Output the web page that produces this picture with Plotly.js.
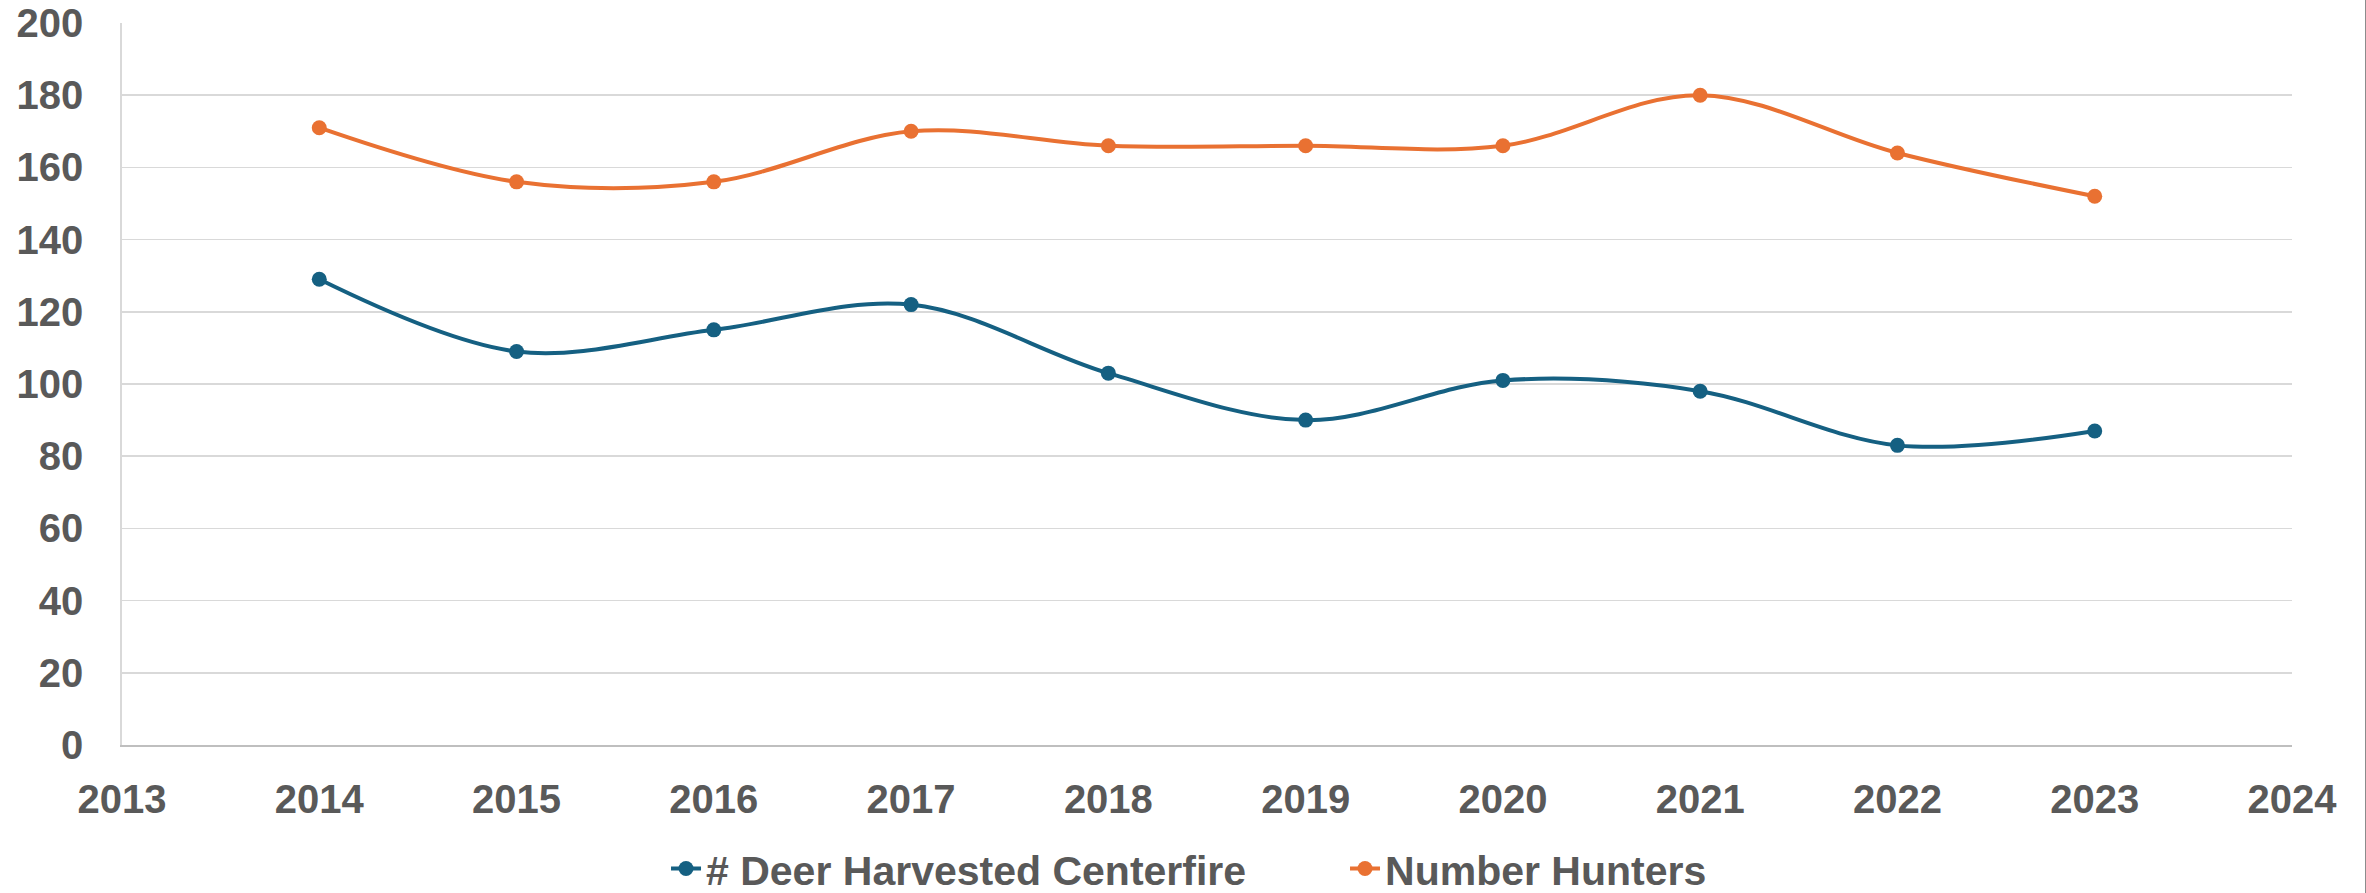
<!DOCTYPE html>
<html>
<head>
<meta charset="utf-8">
<script src="https://cdn.plot.ly/plotly-3.0.1.min.js"></script>
<style>
html, body { margin: 0; padding: 0; background: #ffffff; }
#chart { width: 2365px; height: 893px; border-right: 1px solid #8c8c8c; }
</style>
</head>
<body>
<div id="chart"></div>
<script>
const years = [2014, 2015, 2016, 2017, 2018, 2019, 2020, 2021, 2022, 2023];
const deerHarvested = [129, 109, 115, 122, 103, 90, 101, 98, 83, 87];
const numberHunters = [171, 156, 156, 170, 166, 166, 166, 180, 164, 152];
const seriesNames = ['# Deer Harvested Centerfire', 'Number Hunters'];
const xTicks = [2013, 2014, 2015, 2016, 2017, 2018, 2019, 2020, 2021, 2022, 2023, 2024];
const yTicks = [0, 20, 40, 60, 80, 100, 120, 140, 160, 180, 200];

const blue = '#156082';
const orange = '#E97132';
const textColor = '#595959';
const fontFam = '"Liberation Sans", Arial, sans-serif';

const traces = [
  {
    x: years, y: deerHarvested, name: seriesNames[0], type: 'scatter', mode: 'lines+markers',
    line: { color: blue, width: 4, shape: 'spline', smoothing: 1 },
    marker: { color: blue, size: 15 }
  },
  {
    x: years, y: numberHunters, name: seriesNames[1], type: 'scatter', mode: 'lines+markers',
    line: { color: orange, width: 4, shape: 'spline', smoothing: 1 },
    marker: { color: orange, size: 15 }
  }
];

const layout = {
  width: 2365, height: 893,
  margin: { l: 122, r: 73, t: 23, b: 148, autoexpand: false },
  paper_bgcolor: '#ffffff', plot_bgcolor: '#ffffff',
  font: { family: fontFam, size: 40, color: textColor, weight: 'bold' },
  showlegend: true,
  legend: {
    orientation: 'h', x: 0.2507, xanchor: 'left',
    yref: 'container', y: 0.027, yanchor: 'middle',
    font: { family: fontFam, size: 41, color: textColor, weight: 'bold' },
    entrywidth: 634, entrywidthmode: 'pixels'
  },
  xaxis: {
    range: [2013, 2024], tickvals: xTicks, ticktext: xTicks.map(String),
    showgrid: false, zeroline: false, showline: true, linecolor: '#bfbfbf', linewidth: 1.7,
    ticks: '', ticklabelstandoff: 18, automargin: false,
    tickfont: { family: fontFam, size: 40, color: textColor, weight: 'bold' }
  },
  yaxis: {
    range: [0, 200], tickvals: yTicks, ticktext: yTicks.map(String),
    showgrid: true, gridcolor: '#d9d9d9', gridwidth: 1.7, zeroline: false,
    showline: true, linecolor: '#d9d9d9', linewidth: 1.7,
    ticks: '', ticklabelstandoff: 29, automargin: false,
    tickfont: { family: fontFam, size: 40, color: textColor, weight: 'bold' }
  }
};

Plotly.newPlot('chart', traces, layout, { displayModeBar: false, staticPlot: true });
</script>
</body>
</html>
